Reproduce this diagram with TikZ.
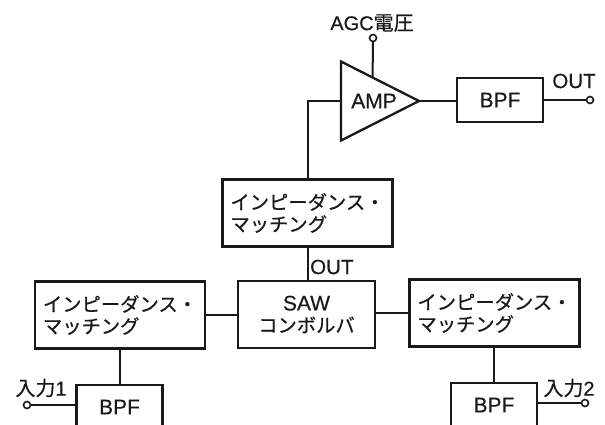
\documentclass[tikz,border=0pt]{standalone}
\usepackage{fontspec}
\setmainfont{Liberation Sans}[FakeBold=0.4]
\newfontfamily\jp{Noto Sans CJK JP}[FakeBold=0.6]
\usetikzlibrary{shapes.geometric,calc}
\begin{document}
\begin{tikzpicture}[x=1pt,y=-1pt,
  blk/.style={draw=black!90, line width=2.3pt, inner sep=0pt, outer sep=0pt},
  conn/.style={draw=black!90, line width=2pt},
  term/.style={circle, draw=black!90, line width=1.6pt, fill=white, minimum size=7pt, inner sep=0pt, outer sep=0pt},
  lbl/.style={font=\fontsize{20.5}{22}\selectfont, inner sep=0pt, text=black!90},
  jlbl/.style={font=\fontsize{20}{22}\selectfont, inner sep=0pt, text=black!90},
  impbox/.style={blk, minimum width=170pt, minimum height=67pt, align=left, text width=154pt,
    font=\jp\fontsize{19.3}{22}\selectfont, text=black!90},
  bpfbox/.style={blk, minimum width=86pt, minimum height=44pt, font=\fontsize{21}{22}\selectfont, text=black!90}
]
\useasboundingbox (0,0) rectangle (605,424);
\clip (0,0) rectangle (605,424);

% amplifier
\node[blk, isosceles triangle, isosceles triangle stretches, shape border rotate=0,
  minimum width=79pt, minimum height=78pt, anchor=lower side] (amp) at (341,101) {};
\node[lbl, font=\fontsize{21}{22}\selectfont] (amplbl) at (374,101) {AMP};

% AGC input
\node[term] (agc) at (373,38) {};
\node[jlbl] (agclbl) at (372,23) {AGC{\jp 電圧}};
\coordinate (agcin) at ($(amp.left corner)!0.405!(amp.apex)$);
\draw[conn] (agc) -- (agcin);

% output BPF
\node[bpfbox] (bpft) at (500,100) {BPF};
\node[term] (outt) at (590,100) {};
\node[lbl] (outtlbl) at (574,81) {OUT};
\draw[conn] (amp.apex) -- (amp.apex -| bpft.west);
\draw[conn] (bpft.east) -- (outt);

% impedance matching (top)
\node[impbox] (topimp) at (307.5,213) {インピーダンス・\\マッチング};
\draw[conn] (topimp.north) |- (amp.lower side);

% SAW convolver
\node[blk, minimum width=137pt, minimum height=67pt, align=center,
  font=\fontsize{21}{22}\selectfont, text=black!90] (saw) at (306.5,314.5) {SAW\\{\jp\fontsize{19.3}{22}\selectfont コンボルバ}};
\draw[conn] (topimp.south) -- (topimp.south |- saw.north);
\node[lbl, anchor=west] (sawout) at (310,267) {OUT};

% left branch
\node[impbox] (leftimp) at (120,315) {インピーダンス・\\マッチング};
\draw[conn] (leftimp.east) -- (saw.west |- leftimp.east);
\node[bpfbox] (bpfl) at (119.5,407) {BPF};
\draw[conn] (leftimp.south -| bpfl.north) -- (bpfl.north);
\node[term] (in1) at (27,405) {};
\node[jlbl] (in1lbl) at (41,388) {{\jp 入力}1};
\draw[conn] (in1) -- (in1 -| bpfl.west);

% right branch
\node[impbox] (rightimp) at (494.5,313) {インピーダンス・\\マッチング};
\draw[conn] (saw.east |- rightimp.west) -- (rightimp.west);
\node[bpfbox] (bpfr) at (494,405) {BPF};
\draw[conn] (rightimp.south -| bpfr.north) -- (bpfr.north);
\node[term] (in2) at (585,403) {};
\node[jlbl] (in2lbl) at (569,388) {{\jp 入力}2};
\draw[conn] (in2 -| bpfr.east) -- (in2);
\end{tikzpicture}
\end{document}
